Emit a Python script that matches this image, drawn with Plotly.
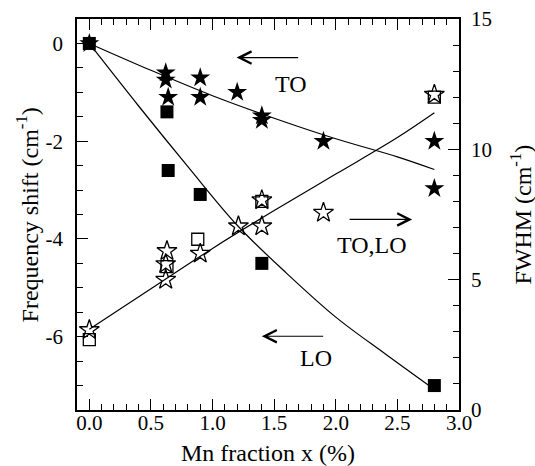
import plotly.graph_objects as go

# Frequency shift (left axis), filled symbols
to_x = [0, 0.62, 0.62, 0.64, 0.9, 0.9, 1.2, 1.4, 1.4, 1.9, 2.8, 2.8]
to_y = [0, -0.6, -0.75, -1.1, -0.7, -1.1, -1.0, -1.48, -1.57, -2.0, -2.0, -2.97]
lo_x = [0, 0.63, 0.64, 0.9, 1.4, 2.8]
lo_y = [0, -1.4, -2.6, -3.09, -4.5, -7.0]

# FWHM (right axis), open symbols
fw_sq_x = [0, 0.63, 0.88, 1.4, 2.8]
fw_sq_y = [2.7, 5.5, 6.55, 8.0, 12.0]
fw_st_x = [0, 0.63, 0.62, 0.62, 0.9, 1.21, 1.4, 1.4, 1.9, 2.8]
fw_st_y = [3.07, 6.1, 5.6, 5.0, 6.0, 7.05, 8.05, 7.05, 7.57, 12.1]

# fit curves
to_fit_x = [0, 0.5, 1.0, 1.5, 2.0, 2.5, 2.8]
to_fit_y = [0, -0.55, -1.07, -1.53, -1.95, -2.32, -2.58]
lo_fit_x = [0, 0.4, 0.8, 1.2, 1.6, 2.0, 2.4, 2.8]
lo_fit_y = [0, -1.28, -2.52, -3.72, -4.7, -5.6, -6.35, -7.08]
fw_fit_x = [0, 0.5, 1.0, 1.5, 2.0, 2.5, 2.8]
fw_fit_y = [3.1, 4.65, 6.2, 7.65, 9.05, 10.45, 11.4]

# tick labels
x_ticks = [0, 0.5, 1.0, 1.5, 2.0, 2.5, 3.0]
x_ticktext = ["0.0", "0.5", "1.0", "1.5", "2.0", "2.5", "3.0"]
y_ticks = [0, -2, -4, -6]
y_ticktext = ["0", "-2", "-4", "-6"]
y2_ticks = [0, 5, 10, 15]
y2_ticktext = ["0", "5", "10", "15"]

FONT = "Liberation Serif"
TICK = 21
TITLE = 24
fig = go.Figure()
line = dict(color="black", width=1.2, shape="spline")
fig.add_trace(go.Scatter(x=to_fit_x, y=to_fit_y, mode="lines", line=line))
fig.add_trace(go.Scatter(x=lo_fit_x, y=lo_fit_y, mode="lines", line=line))
fig.add_trace(go.Scatter(x=fw_fit_x, y=fw_fit_y, mode="lines", line=line, yaxis="y2"))

fig.add_trace(go.Scatter(x=fw_sq_x, y=fw_sq_y, mode="markers", yaxis="y2",
                         marker=dict(symbol="square-open", size=12, color="black",
                                     line=dict(width=1.3, color="black"))))
fig.add_trace(go.Scatter(x=fw_st_x, y=fw_st_y, mode="markers", yaxis="y2",
                         marker=dict(symbol="star-open", size=15, color="black",
                                     line=dict(width=1.3, color="black"))))
fig.add_trace(go.Scatter(x=to_x, y=to_y, mode="markers",
                         marker=dict(symbol="star", size=15, color="black",
                                     line=dict(width=0))))
fig.add_trace(go.Scatter(x=lo_x, y=lo_y, mode="markers",
                         marker=dict(symbol="square", size=13, color="black",
                                     line=dict(width=0))))

def arrow(x, y, ax, ay):
    fig.add_annotation(x=x, y=y, ax=ax, ay=ay, xref="x", yref="y", axref="x", ayref="y",
                       text="", showarrow=True, arrowhead=5, arrowsize=2.2,
                       arrowwidth=1.1, arrowcolor="black")

def label(x, y, t):
    fig.add_annotation(x=x, y=y, xref="x", yref="y", text=t, showarrow=False,
                       font=dict(family=FONT, size=24, color="black"))

arrow(1.195, -0.29, 1.707, -0.29)
label(1.634, -0.82, "TO")
arrow(2.62, -3.6, 2.10, -3.6)
label(2.29, -4.13, "TO,LO")
arrow(1.40, -5.99, 1.91, -5.99)
label(1.84, -6.43, "LO")

# axis titles
def title(x, y, t, angle):
    fig.add_annotation(x=x, y=y, xref="paper", yref="paper", text=t, showarrow=False,
                       textangle=angle, xanchor="center", yanchor="middle",
                       font=dict(family=FONT, size=TITLE, color="black"))

title(0.5, -0.11, "Mn fraction x (%)", 0)
title(-0.131, 0.5, "Frequency shift (cm<sup>-1</sup>)", -90)
title(1.16, 0.5, "FWHM (cm<sup>-1</sup>)", -90)

axis_common = dict(showline=True, linecolor="black", linewidth=1.5, ticks="inside",
                   ticklen=11, tickwidth=1.3, tickcolor="black", showgrid=False,
                   zeroline=False, automargin=False,
                   tickfont=dict(family=FONT, size=TICK, color="black"))

fig.update_layout(
    width=535, height=466, margin=dict(l=77, r=76, t=19, b=56),
    paper_bgcolor="white", plot_bgcolor="white", showlegend=False,
    xaxis=dict(range=[-0.1, 3.0], tickmode="array", tickvals=x_ticks, ticktext=x_ticktext,
               mirror="ticks",
               minor=dict(dtick=0.1, tick0=0, ticklen=6, ticks="inside", tickcolor="black",
                          tickwidth=1.1),
               ticklabelstandoff=-7,
               **axis_common),
    yaxis=dict(range=[-7.5, 0.5], tickmode="array", tickvals=y_ticks, ticktext=y_ticktext,
               minor=dict(dtick=0.5, tick0=0, ticklen=6, ticks="inside", tickcolor="black",
                          tickwidth=1.1),
               ticklabelstandoff=8,
               **axis_common),
    yaxis2=dict(range=[0, 15], tickmode="array", tickvals=y2_ticks, ticktext=y2_ticktext,
                overlaying="y", side="right",
                minor=dict(dtick=1, tick0=0, ticklen=6, ticks="inside", tickcolor="black",
                           tickwidth=1.1),
                ticklabelstandoff=6,
                **axis_common),
)

fig.write_html("out.html")
